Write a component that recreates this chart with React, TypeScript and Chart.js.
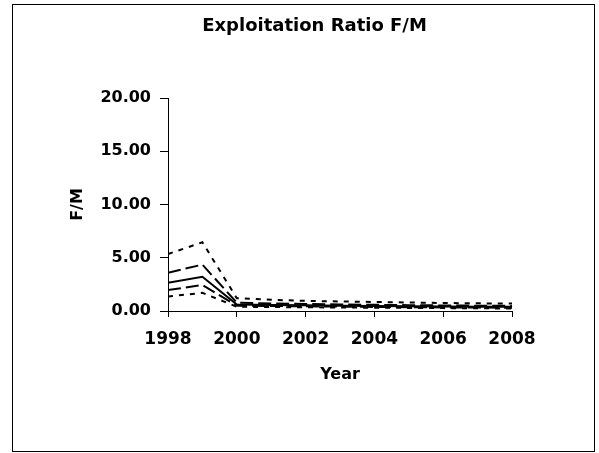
import React, { useEffect, useRef } from "react";
import { Chart, registerables } from "chart.js";

Chart.register(...registerables);

const years = [1998, 1999, 2000, 2001, 2002, 2003, 2004, 2005, 2006, 2007, 2008];
const upperDotted = [5.35, 6.45, 1.2, 1.05, 0.95, 0.9, 0.85, 0.8, 0.75, 0.72, 0.7];
const upperDashed = [3.6, 4.35, 0.78, 0.7, 0.66, 0.62, 0.58, 0.55, 0.52, 0.5, 0.48];
const median = [2.65, 3.22, 0.6, 0.56, 0.53, 0.5, 0.47, 0.44, 0.42, 0.4, 0.39];
const lowerDashed = [1.97, 2.44, 0.5, 0.47, 0.44, 0.41, 0.38, 0.36, 0.34, 0.32, 0.31];
const lowerDotted = [1.36, 1.7, 0.4, 0.37, 0.35, 0.33, 0.31, 0.29, 0.27, 0.25, 0.24];

const titleText = "Exploitation Ratio F/M";
const xTitle = "Year";
const yTitle = "F/M";
const FONT = "'DejaVu Sans', sans-serif";

const toPoints = (arr: number[]) => arr.map((v, i) => ({ x: years[i], y: v }));

const frame = {
  id: "frameAndTitle",
  afterDraw(chart: any) {
    const ctx = chart.ctx;
    ctx.save();
    ctx.strokeStyle = "#000";
    ctx.lineWidth = 1;
    ctx.strokeRect(12.5, 4.5, 582, 447);
    ctx.fillStyle = "#000";
    ctx.font = `bold 18px ${FONT}`;
    ctx.textAlign = "center";
    ctx.textBaseline = "middle";
    ctx.fillText(titleText, 314.5, 26);
    ctx.restore();
  },
};

export default function App() {
  const ref = useRef<HTMLCanvasElement | null>(null);
  useEffect(() => {
    if (!ref.current) return;
    const mk = (data: number[], dash: number[], width: number) => ({
      data: toPoints(data),
      borderColor: "#000",
      backgroundColor: "#000",
      borderWidth: width,
      borderDash: dash,
      pointRadius: 0,
      fill: false,
      tension: 0,
    });
    const chart = new Chart(ref.current, {
      type: "line",
      data: {
        datasets: [
          mk(upperDotted, [5, 6], 2),
          mk(upperDashed, [13, 5], 2),
          mk(median, [], 2),
          mk(lowerDashed, [13, 5], 2),
          mk(lowerDotted, [5, 6], 2),
        ],
      },
      options: {
        animation: false,
        responsive: false,
        devicePixelRatio: 1,
        layout: { padding: { left: 60, right: 87, top: 98, bottom: 50 } },
        plugins: { legend: { display: false }, title: { display: false }, tooltip: { enabled: false } },
        scales: {
          x: {
            type: "linear",
            min: 1998,
            max: 2008,
            afterFit: (s: any) => { s.height = 92; },
            ticks: {
              stepSize: 2,
              color: "#000",
              padding: 12,
              maxRotation: 0,
              font: { family: FONT, size: 17, weight: "bold" },
              callback: (v: any) => String(v),
            },
            grid: { drawOnChartArea: false, drawTicks: true, tickLength: 6, color: "#000" },
            border: { display: true, color: "#000", width: 1 },
            title: {
              display: true,
              text: xTitle,
              color: "#000",
              padding: { top: 0, bottom: 19 },
              font: { family: FONT, size: 16, weight: "bold" },
            },
          },
          y: {
            min: 0,
            max: 20,
            afterFit: (s: any) => { s.width = 108; },
            ticks: {
              stepSize: 5,
              color: "#000",
              padding: 9,
              font: { family: FONT, size: 16, weight: "bold" },
              callback: (v: any) => Number(v).toFixed(2),
            },
            grid: { drawOnChartArea: false, drawTicks: true, tickLength: 8, color: "#000" },
            border: { display: true, color: "#000", width: 1 },
            title: {
              display: true,
              text: yTitle,
              color: "#000",
              padding: { top: 8, bottom: 0 },
              font: { family: FONT, size: 16, weight: "bold" },
            },
          },
        },
      },
      plugins: [frame],
    });
    return () => chart.destroy();
  }, []);
  return (
    <div style={{ position: "fixed", left: 0, top: 0, width: 599, height: 453, background: "#fff" }}>
      <canvas ref={ref} width={599} height={453} style={{ display: "block" }} />
    </div>
  );
}
